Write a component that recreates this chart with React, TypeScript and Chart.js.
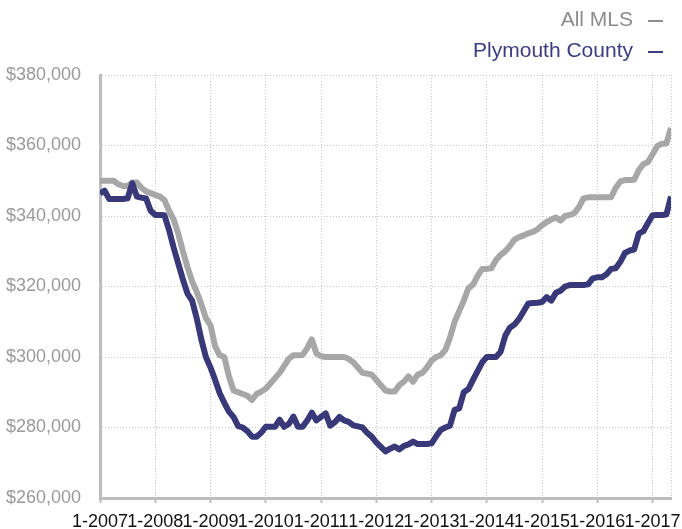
import React, { useEffect, useRef } from "react";
import { Chart, registerables } from "chart.js";

Chart.register(...registerables);

const startYear = 2007;
const monthCount = 125; // 1-2007 .. 5-2017
const xTickLabels = [
  "1-2007", "1-2008", "1-2009", "1-2010", "1-2011", "1-2012",
  "1-2013", "1-2014", "1-2015", "1-2016", "1-2017",
];

const allMls: number[] = [
  350, 350, 350, 350, 349, 348.5, 348.5, 349.5, 349.5, 348, 347, 346.5,
  346, 345.5, 344.5, 341.5, 339, 335, 330, 325.5, 321.5, 318.5, 315, 311,
  309, 303, 300.5, 300, 294.5, 290.5, 290, 289.5, 289, 287.8, 289.5, 290.2,
  291, 292.5, 294, 295.5, 297.5, 299.5, 300.5, 300.5, 300.6, 302.5, 305, 301,
  300.2, 300, 300, 300, 300, 300, 299.5, 298.5, 297, 295.5, 295.3, 295,
  293.5, 292, 290.5, 290.2, 290.2, 292, 293, 294.5, 293, 295, 295.5, 297,
  299, 300, 300.5, 302, 305.5, 310, 313, 316, 319.5, 320.5, 323, 325,
  325, 325.2, 327.5, 329, 330, 331.5, 333.3, 334, 334.5, 335.1, 335.5, 336.2,
  337.4, 338.3, 339, 339.6, 338.7, 340, 340.3, 340.8, 342.5, 345, 345.3, 345.3,
  345.3, 345.3, 345.3, 345.3, 348, 349.8, 350.2, 350.2, 350.3, 353, 354.7, 355.3,
  357.5, 359.8, 360.5, 360.6, 365,
].map((v) => v * 1000);

const plymouth: number[] = [
  346.4, 347.2, 344.8, 344.8, 344.8, 344.8, 345, 349.3, 345.5, 345.2, 345, 341.5,
  340.3, 340.3, 340.2, 336, 331, 326.5, 322, 318, 316, 311, 305, 300,
  297, 293.5, 289.7, 287, 284.5, 283, 280.4, 280, 279, 277.4, 277.4, 278.5,
  280.2, 280.2, 280.2, 282.2, 280.2, 281, 283.1, 280.2, 280.2, 282, 284.2, 282,
  283, 284, 280.5, 281.5, 283, 282, 281.6, 280.6, 280.3, 280, 278.5, 277.4,
  275.8, 274.5, 273.2, 274, 274.6, 273.8, 274.8, 275.2, 276, 275.3, 275.3, 275.3,
  275.5, 277.5, 279.3, 280, 280.5, 285, 285.4, 290, 290.9, 293.5, 296, 298.5,
  300, 300, 300, 301.5, 306, 308.3, 309.2, 310.8, 313, 315.2, 315.3, 315.4,
  315.6, 317, 316, 318.2, 318.8, 320, 320.4, 320.4, 320.4, 320.4, 320.6, 322.3,
  322.6, 322.6, 323.5, 325, 325.2, 327, 329.5, 330.2, 330.5, 335, 335.7, 338,
  340.2, 340.3, 340.3, 340.4, 345.5,
].map((v) => v * 1000);

const seriesNames = ["All MLS", "Plymouth County"];
const yTicks = { min: 260000, max: 380000, step: 20000 };

const grayColor = "#a7a7a7";
const blueColor = "#393979";
const fontFamily = "'Liberation Sans', Arial, Helvetica, sans-serif";

export default function App() {
  const canvasRef = useRef<HTMLCanvasElement | null>(null);

  useEffect(() => {
    const canvas = canvasRef.current;
    if (!canvas) return;
    const toPoints = (arr: number[]) => arr.map((y, x) => ({ x, y }));
    const chart = new Chart(canvas, {
      type: "line",
      data: {
        datasets: [
          {
            label: seriesNames[1],
            data: toPoints(plymouth),
            borderColor: blueColor,
            borderWidth: 6,
            pointRadius: 0,
            tension: 0,
            borderJoinStyle: "round",
            order: 0,
          },
          {
            label: seriesNames[0],
            data: toPoints(allMls),
            borderColor: grayColor,
            borderWidth: 6,
            pointRadius: 0,
            tension: 0,
            borderJoinStyle: "round",
            order: 1,
          },
        ],
      },
      options: {
        responsive: false,
        animation: false,
        layout: { padding: { top: 75, right: 11, left: 0, bottom: 0 } },
        plugins: { legend: { display: false }, tooltip: { enabled: false } },
        scales: {
          x: {
            type: "linear",
            min: 0,
            max: monthCount - 1,
            afterFit: (s: any) => {
              s.height = 31;
            },
            afterBuildTicks: (s: any) => {
              const t = xTickLabels.map((_, i) => ({ value: i * 12 }));
              t.push({ value: monthCount - 1 });
              s.ticks = t;
            },
            ticks: {
              autoSkip: false,
              maxRotation: 0,
              minRotation: 0,
              padding: 8,
              color: "#111",
              font: { family: fontFamily, size: 18 },
              callback: (v: any) => {
                const n = Number(v);
                return n % 12 === 0 ? xTickLabels[n / 12] ?? `1-${startYear + n / 12}` : "";
              },
            },
            grid: {
              color: "#c9c9c9",
              lineWidth: 1,
              drawTicks: true,
              tickLength: 5,
              tickWidth: 2,
              tickColor: (ctx: any) =>
                ctx.tick && ctx.tick.value % 12 === 0 ? "#bdbdbd" : "rgba(0,0,0,0)",
            },
            border: { display: true, color: "#bdbdbd", width: 3, dash: [1, 2] },
          },
          y: {
            min: yTicks.min,
            max: yTicks.max,
            afterFit: (s: any) => {
              s.width = 100;
            },
            ticks: {
              stepSize: yTicks.step,
              padding: 19,
              color: "#9a9a9a",
              font: { family: fontFamily, size: 18 },
              callback: (v: any) => "$" + Number(v).toLocaleString("en-US"),
            },
            grid: { color: "#c9c9c9", lineWidth: 1, drawTicks: false },
            border: { display: true, color: "#bdbdbd", width: 3, dash: [1, 2] },
          },
        },
      },
    });
    return () => chart.destroy();
  }, []);

  const legendText: React.CSSProperties = {
    position: "absolute",
    right: 49,
    fontFamily,
    fontSize: 21,
    lineHeight: "21px",
    whiteSpace: "nowrap",
  };
  const dash: React.CSSProperties = {
    position: "absolute",
    left: 648,
    width: 15,
    height: 2,
  };

  return (
    <div style={{ position: "fixed", left: 0, top: 0, width: 682, height: 529, background: "#fff" }}>
      <canvas ref={canvasRef} width={682} height={529} style={{ display: "block" }} />
      <div style={{ ...legendText, top: 8, color: "#8c8c8c" }}>{seriesNames[0]}</div>
      <div style={{ ...dash, top: 20, background: "#8c8c8c" }} />
      <div style={{ ...legendText, top: 39, color: "#3c3c80" }}>{seriesNames[1]}</div>
      <div style={{ ...dash, top: 51, background: "#3c3c80" }} />
    </div>
  );
}
